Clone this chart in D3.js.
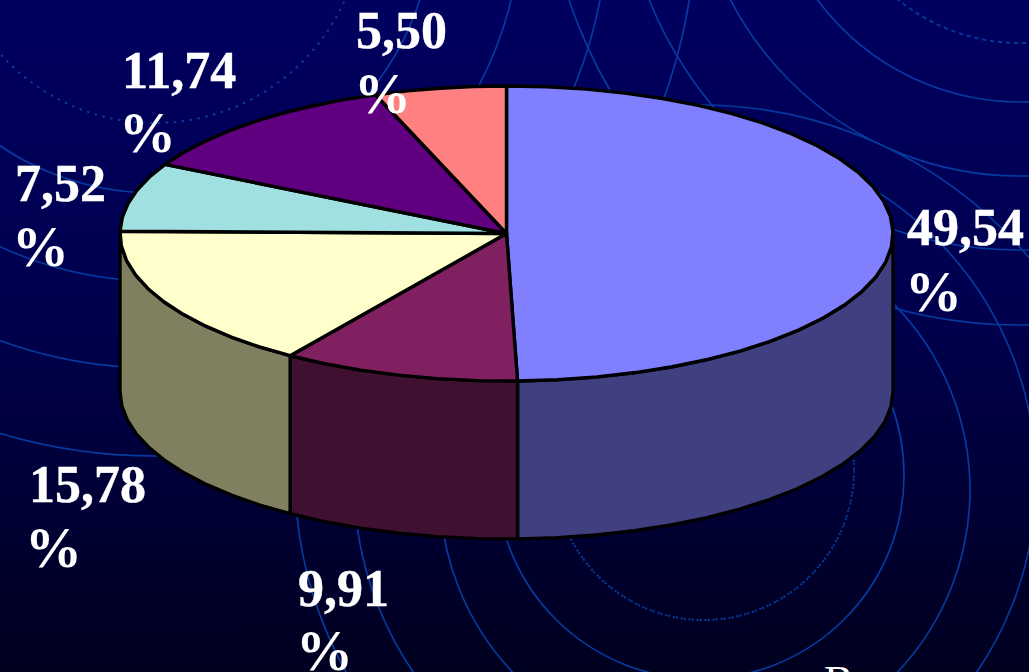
<!DOCTYPE html>
<html><head><meta charset="utf-8">
<script src="https://cdn.jsdelivr.net/npm/d3@7"></script>
<style>html,body{margin:0;padding:0;background:#000040;overflow:hidden}svg{display:block}</style>
</head><body><svg id="c" width="1029" height="672"></svg>
<script>
const categories = ["A","B","C","D","E","F"];
const values = [49.54, 9.91, 15.78, 7.52, 11.74, 5.50];
const labels = ["49,54","9,91","15,78","7,52","11,74","5,50"];
const topColors = ["#8080FF","#802060","#FFFFCC","#A0E0E0","#600080","#FF8080"];
const sideColors = ["#404080","#401030","#808060","#506f70","#300040","#804040"];
const labelAnchors = [[907,245,905,311],[298,606,296,670],[29,502,25,567],[15,201,12,266],[122,88,119,152],[356,48,354,113]];
const rings = [
 {c:[700,475],r:204},{c:[705,490],r:265},{c:[695,480],r:341},
 {c:[700,475],r:405,a:[Math.PI/2,Math.PI*1.5]},
 {c:[700,536],r:431,a:[0,Math.PI/2]},
 {c:[704,470],r:150,dot:true,a:[Math.PI*0.4,Math.PI*1.35]},
 {c:[1020,-150],r:193,dot:true},{c:[1020,-150],r:252},{c:[1020,-150],r:326},{c:[1020,-150],r:400},{c:[1020,-150],r:475},
 {c:[155,-85],r:208,dot:true},{c:[155,-85],r:278},{c:[155,-85],r:366},{c:[155,-85],r:453},{c:[155,-85],r:541}
];
const W=1029,H=672,cx=506.5,cy=233.5,rx=386.5,ry=147.5,depth=158;
const svg=d3.select("#c");
const defs=svg.append("defs");
const g=defs.append("linearGradient").attr("id","bg").attr("x1",0).attr("y1",0).attr("x2",0).attr("y2",1);
g.append("stop").attr("offset","0%").attr("stop-color","#00005f");
g.append("stop").attr("offset","45%").attr("stop-color","#00004f");
g.append("stop").attr("offset","100%").attr("stop-color","#00001f");
svg.append("rect").attr("width",W).attr("height",H).attr("fill","url(#bg)");

const ringArc=d3.arc();
svg.append("g").selectAll("path").data(rings).join("path")
 .attr("transform",d=>`translate(${d.c})`)
 .attr("d",d=>{const a=d.a||[0,2*Math.PI];return ringArc({innerRadius:d.r,outerRadius:d.r,startAngle:a[0],endAngle:a[1]});})
 .attr("fill","none").attr("stroke","#053a9e").attr("stroke-width",d=>d.dot?2:1.7)
 .attr("stroke-dasharray",d=>d.dot?"2 6":null);

const sx=d3.scaleLinear().domain([-1,1]).range([cx-rx,cx+rx]);
const sy=d3.scaleLinear().domain([-1,1]).range([cy+ry,cy-ry]);
const pt=a=>[sx(Math.sin(a)),sy(Math.cos(a))];
const pie=d3.pie().sort(null).value(d=>d)(values);
const STEP=Math.PI/30;
function rim(a0,a1){
  const n=Math.max(1,Math.ceil((a1-a0)/STEP)),pts=[];
  for(let i=0;i<=n;i++)pts.push(pt(a0+(a1-a0)*i/n));
  return pts;
}
const line=d3.line();
const black={stroke:"#000",w:3.4};
const walls=svg.append("g");
pie.forEach(s=>{
  const a0=Math.max(s.startAngle,Math.PI/2),a1=Math.min(s.endAngle,Math.PI*1.5);
  if(a1<=a0)return;
  const t=rim(a0,a1),b=t.map(p=>[p[0],p[1]+depth]).reverse();
  walls.append("path").attr("d",line(t.concat(b))+"Z")
    .attr("fill",sideColors[s.index]).attr("stroke",black.stroke).attr("stroke-width",black.w).attr("stroke-linejoin","round");
});
svg.append("g").selectAll("path").data(pie).join("path")
  .attr("d",s=>line([[cx,cy]].concat(rim(s.startAngle,s.endAngle)))+"Z")
  .attr("fill",s=>topColors[s.index]).attr("stroke","#000").attr("stroke-width",black.w).attr("stroke-linejoin","round");
const lab=svg.append("g").attr("font-family","'Liberation Serif',serif").attr("font-weight","700").attr("font-size",52).attr("fill","#fff");
labels.forEach((t,i)=>{
  const a=labelAnchors[i];
  lab.append("text").attr("x",a[0]).attr("y",a[1]).attr("stroke","#fff").attr("stroke-width",0.4).text(t);
  lab.append("text").attr("x",a[2]).attr("y",a[3]).attr("font-size",57).text("%");
});
lab.append("text").attr("x",824).attr("y",696).attr("font-size",44).attr("font-weight",400).text("В");
</script></body></html>
